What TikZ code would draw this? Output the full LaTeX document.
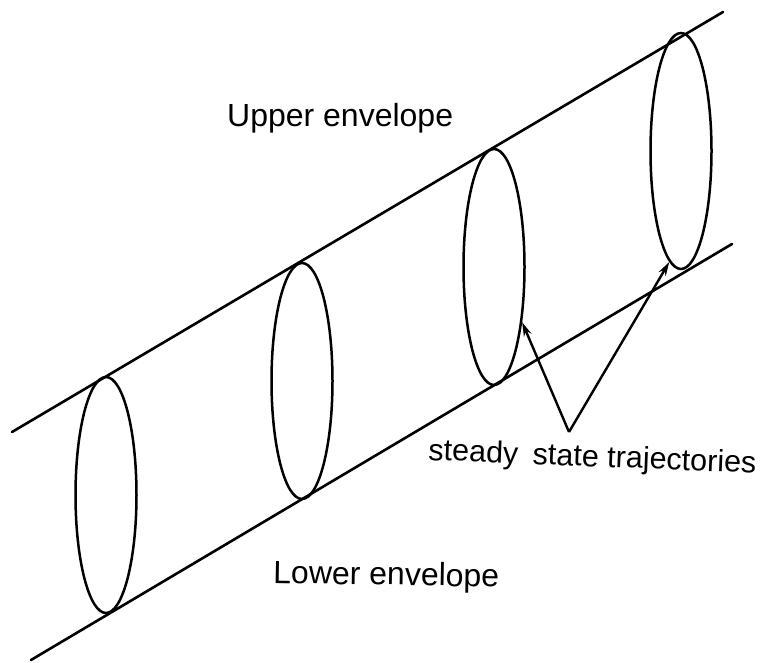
\documentclass[tikz,border=0pt]{standalone}
\usepackage{fontspec}
\setmainfont{Liberation Sans}
\usetikzlibrary{shapes.geometric,arrows.meta}
\begin{document}
\begin{tikzpicture}[x=1pt,y=-1pt,
  env/.style={line width=2.6pt, line cap=round},
  traj/.style={ellipse, draw, line width=2.5pt, inner sep=0pt, minimum width=61pt, minimum height=236pt},
  pointer/.style={line width=2.4pt, -{Stealth[length=14pt,width=8pt]}},
  lbl/.style={font=\fontsize{32}{36}\selectfont, inner sep=0pt, anchor=base west}]
\useasboundingbox (0,0) rectangle (761,662);
% envelopes
\coordinate (u1) at (12,432);
\coordinate (u2) at (723,12);
\coordinate (l1) at (31,660);
\coordinate (l2) at (732,244);
\draw[env] (u1) -- (u2);
\draw[env] (l1) -- (l2);
% trajectories
\node[traj] (e1) at (106,495) {};
\node[traj] (e2) at (302,381) {};
\node[traj] (e3) at (494,267) {};
\node[traj] (e4) at (681,151) {};
% labels
\node[lbl] (up) at (227,126) {Upper envelope};
\node[lbl, rotate=-1] (lo) at (273,583) {Lower envelope};
\node[lbl, font=\fontsize{30.5}{34}\selectfont, rotate=-2.3] (st) at (428,460) {steady\hspace{6pt} state trajectories};
% pointers
\coordinate (apex) at (569,432);
\draw[pointer] (apex) -- (e3.-63);
\draw[pointer] (apex) -- (e4.-96);
\end{tikzpicture}
\end{document}
